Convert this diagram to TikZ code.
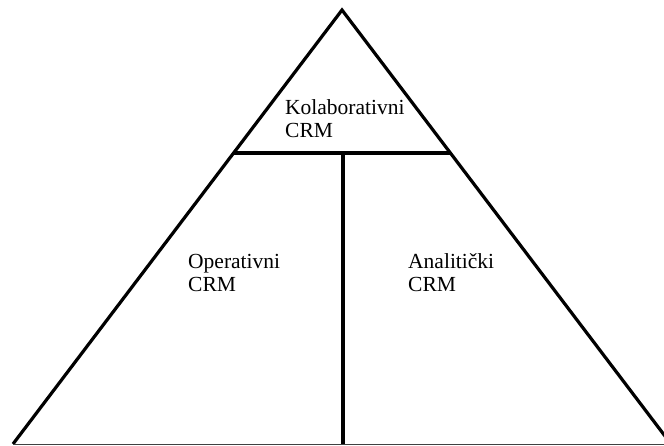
\documentclass[tikz,border=0pt]{standalone}
\usepackage{fontspec}
\setmainfont{Liberation Serif}
\begin{document}
\begin{tikzpicture}[x=1pt,y=-1pt,
    side/.style={line width=3.2pt,line join=miter},
    part/.style={anchor=base west,align=left,inner sep=0pt,
      font=\fontsize{21.5}{23}\selectfont}]
  \useasboundingbox (0,0) rectangle (664,446);
  \clip (0,0) rectangle (664,446);
  % pyramid
  \coordinate (top) at (342,10);
  \coordinate (left) at (13,444);
  \coordinate (right) at (671,444);
  \coordinate (cutl) at (233.6,153);
  \coordinate (cutr) at (450.4,153);
  \coordinate (cutm) at (343,153);
  \coordinate (foot) at (343,444);
  \draw[side] (left) -- (top) -- (right);
  \draw[line width=1pt,black!75] (left) -- (right);
  \draw[side] (cutl) -- (cutr);
  \draw[side] (cutm) -- (foot);
  % labels
  \node[part] (kolab) at (285,137.5) {Kolaborativni\\CRM};
  \node[part] (oper) at (188,292) {Operativni\\CRM};
  \node[part] (anal) at (408,292) {Analitički\\CRM};
\end{tikzpicture}
\end{document}
